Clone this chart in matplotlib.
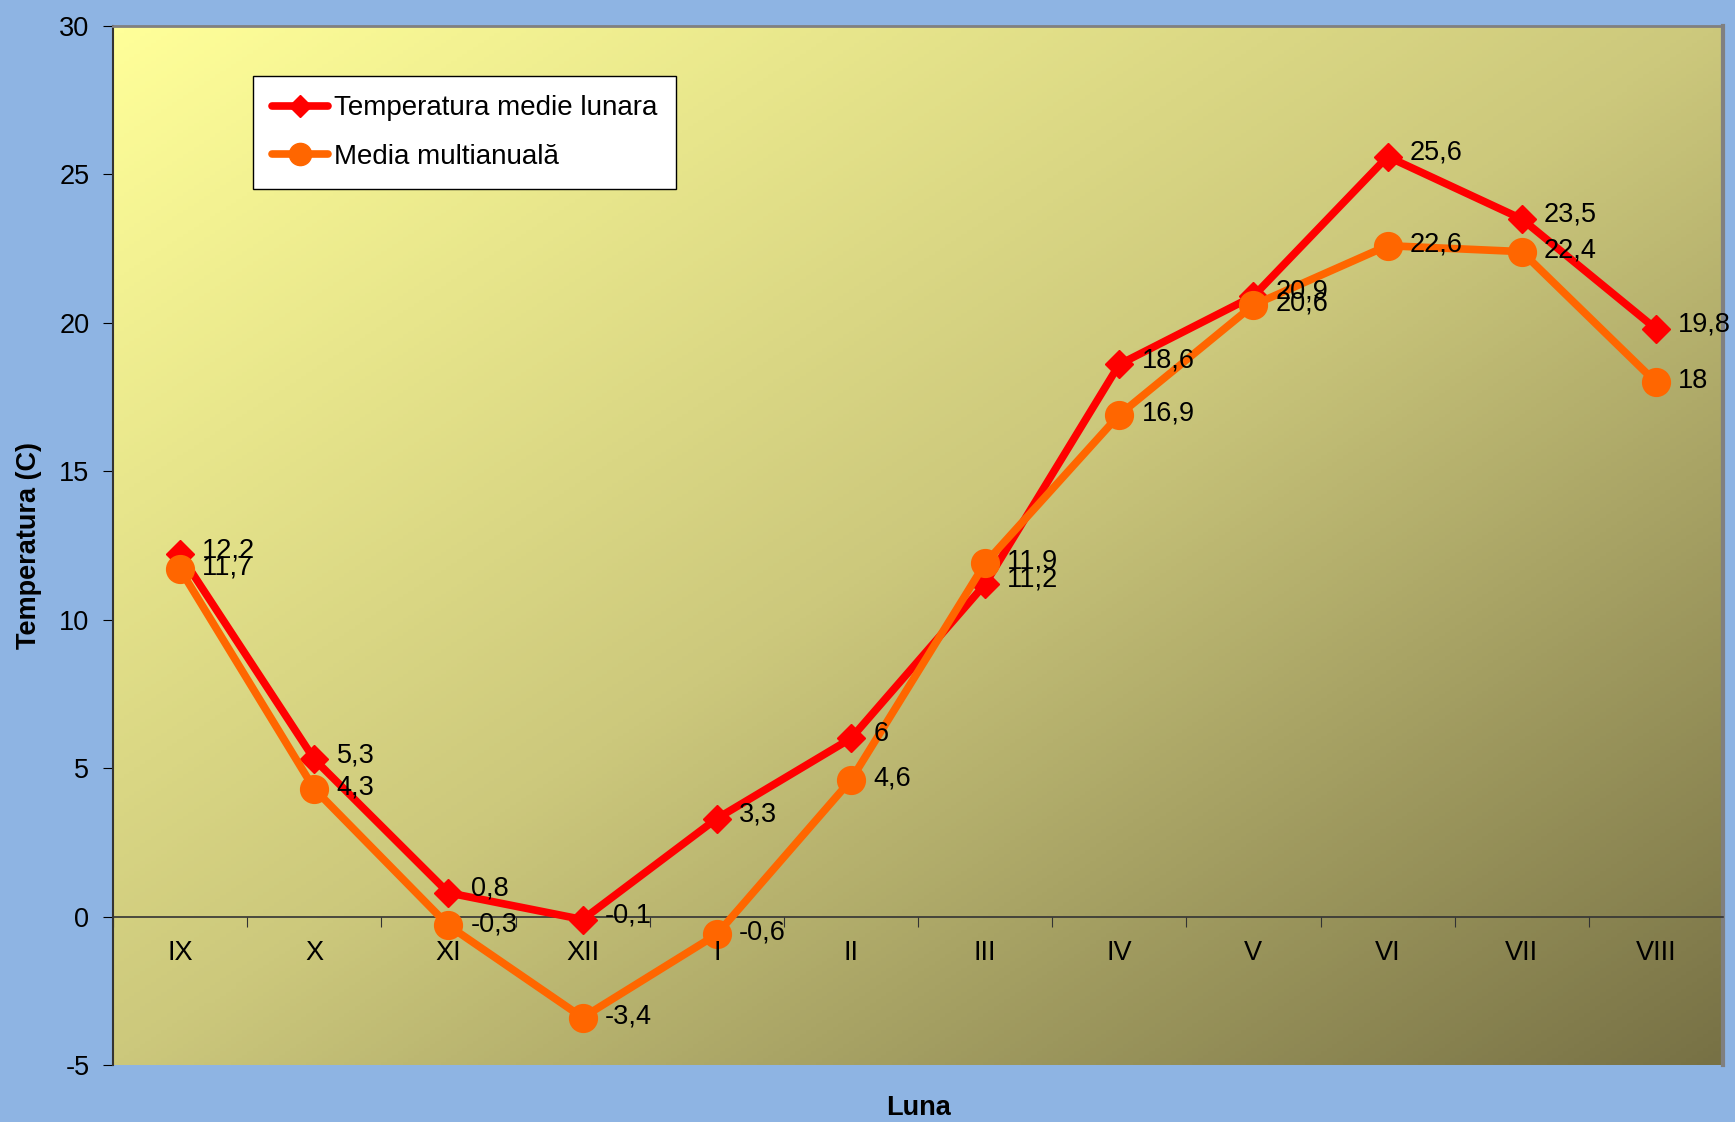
import numpy as np
import matplotlib.pyplot as plt
from matplotlib.colors import LinearSegmentedColormap

plt.rcParams['font.family'] = ['Liberation Sans', 'DejaVu Sans']
plt.rcParams['axes.unicode_minus'] = False

luni = ['IX', 'X', 'XI', 'XII', 'I', 'II', 'III', 'IV', 'V', 'VI', 'VII', 'VIII']
temp_lunara = [12.2, 5.3, 0.8, -0.1, 3.3, 6, 11.2, 18.6, 20.9, 25.6, 23.5, 19.8]
media_multi = [11.7, 4.3, -0.3, -3.4, -0.6, 4.6, 11.9, 16.9, 20.6, 22.6, 22.4, 18]


def fmt(v):
    return ('%g' % v).replace('.', ',')


fig = plt.figure(figsize=(17.35, 11.22), dpi=100, facecolor='#8EB4E3')
ax = fig.add_axes([113 / 1735, 1 - 1065 / 1122, 1610 / 1735, 1039 / 1122])

# diagonal gradient background (light yellow -> dark olive)
cmap = LinearSegmentedColormap.from_list('bg', ['#FFFF99', '#CCC87C', '#777145'])
gx, gy = np.meshgrid(np.linspace(0, 1, 300), np.linspace(0, 1, 300))
grad = (gx + gy) / 2
ax.imshow(grad, cmap=cmap, extent=[0, 1, 0, 1], transform=ax.transAxes,
          aspect='auto', origin='upper', zorder=0, vmin=0, vmax=1)

x = np.arange(len(luni))
ax.plot(x, temp_lunara, color='#FF0000', lw=5.5, marker='D', ms=14,
        label='Temperatura medie lunara', zorder=3, solid_capstyle='round')
ax.plot(x, media_multi, color='#FF6600', lw=5.5, marker='o', ms=20,
        label='Media multianuală', zorder=4, solid_capstyle='round')

for xi, v in zip(x, temp_lunara):
    ax.annotate(fmt(v), (xi, v), xytext=(16, 3), textcoords='offset points',
                fontsize=19.5, va='center', ha='left', zorder=5)
for xi, v in zip(x, media_multi):
    ax.annotate(fmt(v), (xi, v), xytext=(16, 1), textcoords='offset points',
                fontsize=19.5, va='center', ha='left', zorder=5)

ax.set_xlim(-0.5, 11.5)
ax.set_ylim(-5, 30)
ax.set_yticks(range(-5, 31, 5))
ax.tick_params(axis='y', labelsize=19.5, length=7, direction='out', pad=10)

# category axis drawn along the zero line
ax.spines['bottom'].set_position(('data', 0))
ax.spines['bottom'].set_color('#333333')
ax.spines['bottom'].set_linewidth(1.2)
ax.set_xticks(np.arange(-0.5, 12, 1))
ax.set_xticklabels([])
ax.tick_params(axis='x', length=7, direction='out', color='#333333')
for xi, name in zip(x, luni):
    ax.text(xi, -0.8, name, ha='center', va='top', fontsize=19.5, zorder=5)

ax.spines['left'].set_color('#333333')
ax.spines['left'].set_linewidth(1.5)
ax.spines['top'].set_color('#808080')
ax.spines['top'].set_linewidth(2)
ax.spines['right'].set_color('#808080')
ax.spines['right'].set_linewidth(3)

ax.set_ylabel('Temperatura (C)', fontsize=19.5, fontweight='bold', labelpad=12)
fig.text((113 + 1723) / 2 / 1735, 1 - 1108 / 1122, 'Luna', ha='center', va='center',
         fontsize=19.5, fontweight='bold')

leg = ax.legend(loc='upper left', bbox_to_anchor=(140 / 1610, 1 - 50 / 1039),
                fontsize=20, frameon=True, fancybox=False, edgecolor='black',
                framealpha=1, borderpad=0.7, labelspacing=0.8, handlelength=2.0,
                handletextpad=0.2, markerscale=0.8, borderaxespad=0)
leg.get_frame().set_linewidth(1)

fig.savefig('out.png', dpi=100, facecolor=fig.get_facecolor())
